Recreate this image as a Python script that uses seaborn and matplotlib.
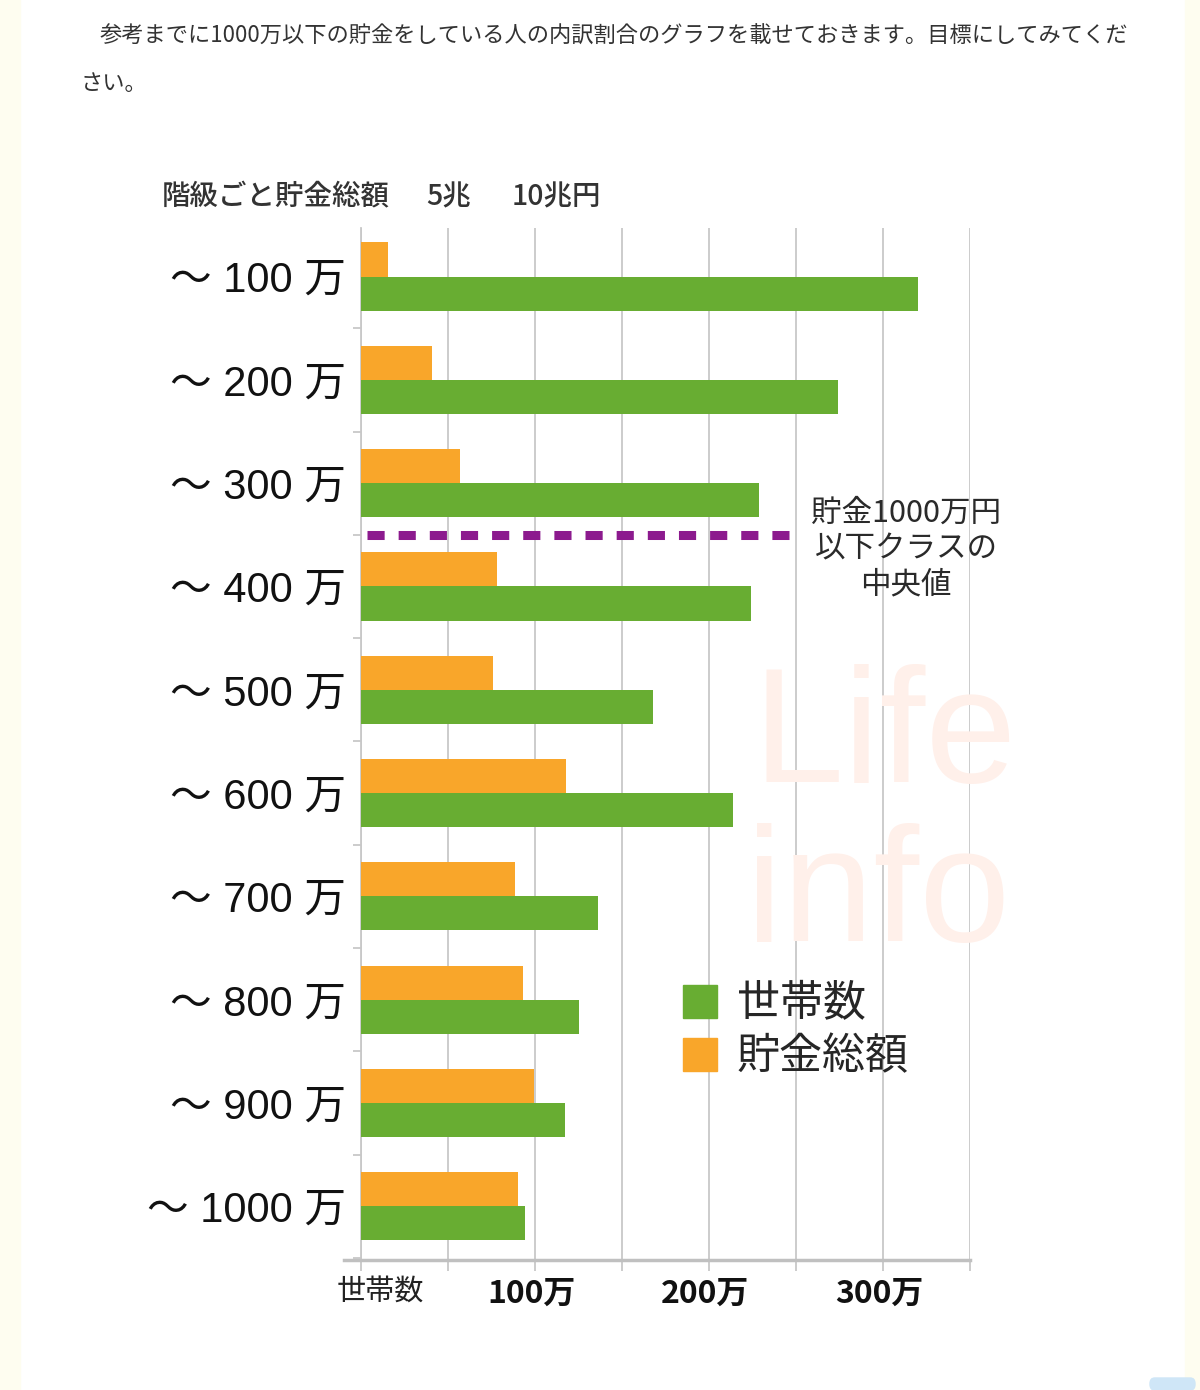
import seaborn as sns
import pandas as pd
import numpy as np
import matplotlib.pyplot as plt
from matplotlib.patches import Patch, FancyBboxPatch
from matplotlib.transforms import ScaledTranslation

# data
classes = ['〜 100 万', '〜 200 万', '〜 300 万', '〜 400 万', '〜 500 万',
           '〜 600 万', '〜 700 万', '〜 800 万', '〜 900 万', '〜 1000 万']
households = [320, 274, 229, 224, 168, 214, 136, 125, 117, 94]   # 万世帯
savings = [1.55, 4.1, 5.7, 7.8, 7.6, 11.8, 8.85, 9.3, 9.95, 9.0]  # 兆円
xtick_vals = [100, 200, 300]
xtick_labels = ['100万', '200万', '300万']
median_note = '貯金1000万円\n以下クラスの\n中央値'
header = '参考までに1000万以下の貯金をしている人の内訳割合のグラフを載せておきます。目標にしてみてくだ'
header2 = 'さい。'

# 1兆円 is drawn at the length of 10万世帯 on the shared axis
df = pd.DataFrame({
    'class': classes * 2,
    'series': ['貯金総額'] * len(classes) + ['世帯数'] * len(classes),
    'value': [s * 10 for s in savings] + households,
})

sns.set_theme(style='white')
plt.rcParams['font.family'] = ['Noto Sans CJK JP', 'DejaVu Sans']

green = '#68ad32'
orange = '#f9a62a'
grid_c = '#c8c8c8'

fig = plt.figure(figsize=(12, 13.9), dpi=100)
fig.patch.set_facecolor('white')
W, H = 1200, 1390

# cream page margins
fig.patches.append(plt.Rectangle((0, 0), 20 / W, 1, transform=fig.transFigure,
                                 color='#fefdf0', zorder=0))
fig.patches.append(plt.Rectangle((1185 / W, 0), 15 / W, 1, transform=fig.transFigure,
                                 color='#fefdf0', zorder=0))
fig.patches.append(FancyBboxPatch((1150 / W, 0), 45 / W, 12 / H, transform=fig.transFigure,
                                  boxstyle='round,pad=0,rounding_size=0.004',
                                  color='#cfe6f7', zorder=1))

fig.text(100 / W, 1 - 36 / H, header, fontsize=16, color='#333333', va='center')
fig.text(80 / W, 1 - 83 / H, header2, fontsize=16, color='#333333', va='center')

ax = fig.add_axes([361 / W, 1 - 1260 / H, 609 / W, 1032 / H])
ax.set_facecolor('none')

sns.barplot(data=df, y='class', x='value', hue='series', orient='h',
            hue_order=['貯金総額', '世帯数'], palette=[orange, green],
            width=0.66, saturation=1, legend=False, linewidth=0,
            edgecolor='none', ax=ax, zorder=3)

ax.set_xlim(0, 350)
ax.set_ylim(9.52, -0.47)
ax.set_xticks(np.arange(0, 351, 50))
ax.set_xticklabels([''] * 8)
ax.xaxis.grid(True, color=grid_c, linewidth=1.3, zorder=0)
ax.set_axisbelow(True)
ax.set_xlabel('')
ax.set_ylabel('')

for s in ['top', 'right']:
    ax.spines[s].set_visible(False)
ax.spines['left'].set_color(grid_c)
ax.spines['left'].set_linewidth(1.3)
ax.spines['bottom'].set_color('#c0c0c0')
ax.spines['bottom'].set_linewidth(2.5)
ax.spines['bottom'].set_bounds(-10, 350)
ax.tick_params(axis='x', bottom=True, length=8, color=grid_c, width=1.3)

ax.set_yticks(range(len(classes)))
ax.set_yticklabels(classes, fontsize=30, color='#111111',
                   family=['Liberation Sans', 'Noto Sans CJK JP'])
ax.tick_params(axis='y', left=False, pad=5)
ax.set_yticks(np.arange(0.5, len(classes), 1), minor=True)
ax.tick_params(axis='y', which='minor', left=True, length=6, color=grid_c, width=1.3)

below = ax.get_xaxis_transform() + ScaledTranslation(0, -0.18, fig.dpi_scale_trans)
for v, lab in zip(xtick_vals, xtick_labels):
    ax.text(v - 2, 0, lab, transform=below, ha='center', va='top',
            fontsize=23, fontweight='bold', color='#111111')
ax.text(11, 0, '世帯数', transform=below, ha='center', va='top',
        fontsize=21, color='#222222')

# median line between 300万 and 400万
ax.hlines(2.5, 3.5, 246, colors='#8c1a8e', linewidth=6.5,
          linestyles=(0, (1.9, 1.55)), zorder=4)
fig.text(906 / W, 1 - 549 / H, median_note, fontsize=22, color='#2a2a2a',
         ha='center', va='center', linespacing=1.2)

# watermark
fig.text(752 / W, 1 - 740 / H, 'Life', fontsize=118, color='#fff0ea',
         family='Liberation Sans', va='center', ha='left', zorder=0)
fig.text(746 / W, 1 - 899 / H, 'info', fontsize=118, color='#fff0ea',
         family='Liberation Sans', va='center', ha='left', zorder=0)

# header of the chart
fig.text(162 / W, 1 - 197 / H, '階級ごと貯金総額', fontsize=20.5,
         color='#333333', va='center', fontweight='medium')
fig.text(426 / W, 1 - 197 / H, '5兆', fontsize=20.5,
         color='#333333', va='center', fontweight='medium')
fig.text(512 / W, 1 - 197 / H, '10兆円', fontsize=20.5,
         color='#333333', va='center', fontweight='medium')

# legend
handles = [Patch(color=green), Patch(color=orange)]
fig.legend(handles, ['世帯数', '貯金総額'], loc='upper left',
           bbox_to_anchor=(683 / W, 1 - 982 / H), frameon=False, fontsize=31,
           handlelength=0.8, handleheight=0.8, handletextpad=0.45,
           labelspacing=0.22, borderpad=0, borderaxespad=0)

plt.savefig('out.png', dpi=100)
